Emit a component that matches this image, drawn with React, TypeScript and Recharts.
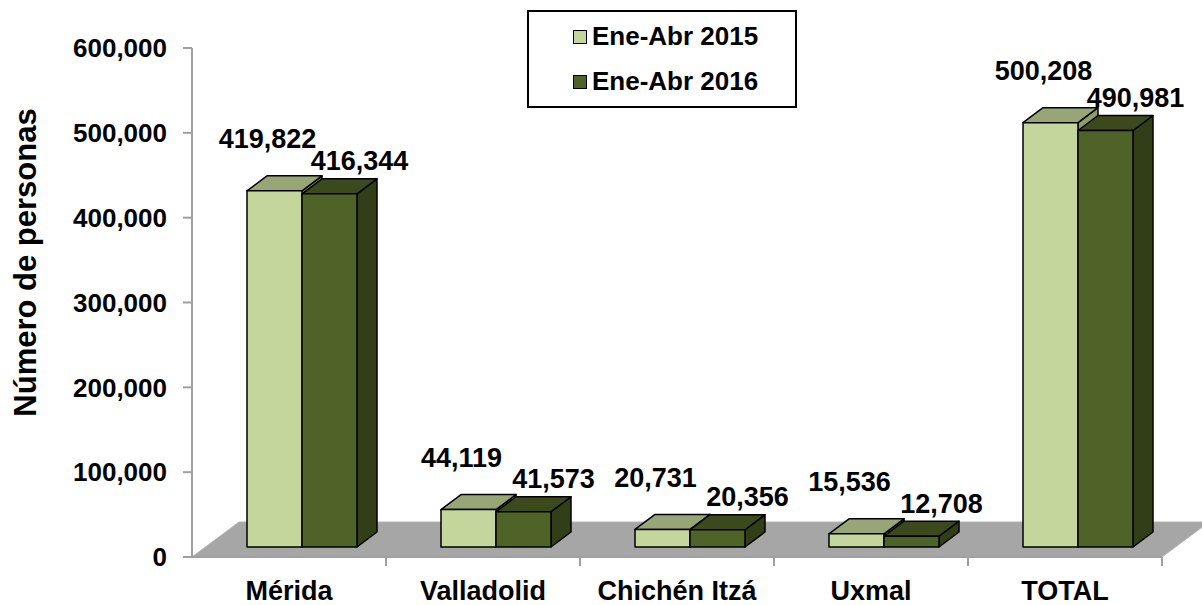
import { BarChart, Bar, XAxis, YAxis, LabelList, ReferenceArea } from "recharts";

// ── Data ─────────────────────────────────────────────────────────────────────

const categories = ["Mérida", "Valladolid", "Chichén Itzá", "Uxmal", "TOTAL"];
const visitors2015 = [419822, 44119, 20731, 15536, 500208];
const visitors2016 = [416344, 41573, 20356, 12708, 490981];
const yTicks = [0, 100000, 200000, 300000, 400000, 500000, 600000];
const seriesNames = ["Ene-Abr 2015", "Ene-Abr 2016"];

const data = categories.map((name, i) => ({
  name,
  a2015: visitors2015[i],
  a2016: visitors2016[i],
}));

// ── 3D look ──────────────────────────────────────────────────────────────────
// bars sit part-way back on the floor; OFF = where the front face lands,
// DEPTH = how far the box goes back.
const OFF = { x: 13, y: -10 };
const DEPTH = { x: 20, y: -15 };
const FLOOR = { x: 47, y: -35 };

const FONT = "'Liberation Sans', Arial, sans-serif";
const fmt = (v: number) => v.toLocaleString("en-US");

const palette = {
  a2015: { front: "#C4D69B", top: "#97A577", side: "#8E9C6C" },
  a2016: { front: "#4F6228", top: "#3B491D", side: "#323E18" },
};

function makeBox(colors: { front: string; top: string; side: string }) {
  return function Box(props: any) {
    const { x, y, width: w, height: h } = props;
    if (w == null || h == null) return null;
    const fx = x + OFF.x;
    const fy = y + OFF.y;
    const top = `${fx},${fy} ${fx + w},${fy} ${fx + w + DEPTH.x},${fy + DEPTH.y} ${fx + DEPTH.x},${fy + DEPTH.y}`;
    const side = `${fx + w},${fy} ${fx + w + DEPTH.x},${fy + DEPTH.y} ${fx + w + DEPTH.x},${fy + h + DEPTH.y} ${fx + w},${fy + h}`;
    return (
      <g stroke="#000" strokeWidth={1.5} strokeLinejoin="round">
        <polygon points={side} fill={colors.side} />
        <polygon points={top} fill={colors.top} />
        <rect x={fx} y={fy} width={w} height={h} fill={colors.front} />
      </g>
    );
  };
}

function makeLabel(dx: number, dy: number) {
  return function ValueLabel(props: any) {
    const { x, y, width, value } = props;
    return (
      <text
        x={x + OFF.x + width / 2 + dx}
        y={y + OFF.y + dy}
        textAnchor="middle"
        dy="0.35em"
        fontFamily={FONT}
        fontWeight="bold"
        fontSize={27}
        fill="#000"
      >
        {fmt(value)}
      </text>
    );
  };
}

// grey floor under the bars + category boundary ticks on the front edge
function Floor(props: any) {
  const { x, y, width, height } = props;
  const bottom = y + height;
  const pts = `${x},${bottom} ${x + width},${bottom} ${x + width + FLOOR.x},${bottom + FLOOR.y} ${x + FLOOR.x},${bottom + FLOOR.y}`;
  const step = width / categories.length;
  return (
    <g>
      <polygon points={pts} fill="#A6A6A6" stroke="#B4B4B4" strokeWidth={1} />
      {categories.map((_, i) => (
        <line
          key={i}
          x1={x + step * (i + 1)}
          x2={x + step * (i + 1)}
          y1={bottom}
          y2={bottom + 9}
          stroke="#A0A0A0"
          strokeWidth={2}
        />
      ))}
    </g>
  );
}

function LegendBox() {
  const items = [palette.a2015.front, palette.a2016.front];
  return (
    <div
      style={{
        position: "absolute",
        left: 527,
        top: 10,
        width: 270,
        height: 98,
        border: "2px solid #000",
        background: "#fff",
        display: "flex",
        flexDirection: "column",
        justifyContent: "space-around",
        padding: "2px 0",
        boxSizing: "border-box",
      }}
    >
      {items.map((c, i) => (
        <div key={i} style={{ display: "flex", alignItems: "center", paddingLeft: 44 }}>
          <span style={{ width: 12, height: 12, background: c, border: "1.5px solid #000", marginRight: 5 }} />
          <span style={{ fontFamily: FONT, fontWeight: "bold", fontSize: 26, color: "#000" }}>{seriesNames[i]}</span>
        </div>
      ))}
    </div>
  );
}

function CategoryTick(props: any) {
  const { x, y, payload } = props;
  return (
    <text x={x} y={y + 35} textAnchor="middle" fontFamily={FONT} fontWeight="bold" fontSize={27} fill="#000">
      {payload.value}
    </text>
  );
}

function AxisTitle(props: any) {
  const { viewBox } = props;
  const cx = 25;
  const cy = viewBox ? viewBox.y + viewBox.height / 2 - 40 : 264;
  return (
    <text
      x={cx}
      y={cy}
      transform={`rotate(-90, ${cx}, ${cy})`}
      textAnchor="middle"
      dominantBaseline="central"
      fontFamily={FONT}
      fontWeight="bold"
      fontSize={31}
      fill="#000"
    >
      Número de personas
    </text>
  );
}

export default function App() {
  return (
    <div style={{ position: "absolute", left: 0, top: 0, width: 1202, height: 605, background: "#fff" }}>
      <BarChart
        width={1202}
        height={605}
        data={data}
        margin={{ top: 48, right: 40, bottom: 18, left: 0 }}
        barGap={0}
        barSize={55}
      >
        <XAxis
          dataKey="name"
          tick={<CategoryTick />}
          tickLine={false}
          axisLine={{ stroke: "#A0A0A0", strokeWidth: 2 }}
          height={30}
          interval={0}
        />
        <YAxis
          domain={[0, 600000]}
          ticks={yTicks}
          tickFormatter={fmt}
          width={192}
          tickSize={9}
          tickMargin={16}
          axisLine={{ stroke: "#A0A0A0", strokeWidth: 2 }}
          tickLine={{ stroke: "#A0A0A0", strokeWidth: 2 }}
          tick={{ fill: "#000", fontFamily: FONT, fontWeight: "bold", fontSize: 26 }}
          label={<AxisTitle />}
        />
        <ReferenceArea y1={0} y2={600000} shape={<Floor />} ifOverflow="visible" />
        <Bar dataKey="a2015" name={seriesNames[0]} shape={makeBox(palette.a2015)} isAnimationActive={false}>
          <LabelList dataKey="a2015" content={makeLabel(-7, -52)} />
        </Bar>
        <Bar dataKey="a2016" name={seriesNames[1]} shape={makeBox(palette.a2016)} isAnimationActive={false}>
          <LabelList dataKey="a2016" content={makeLabel(30, -33)} />
        </Bar>
      </BarChart>
      <LegendBox />
    </div>
  );
}
